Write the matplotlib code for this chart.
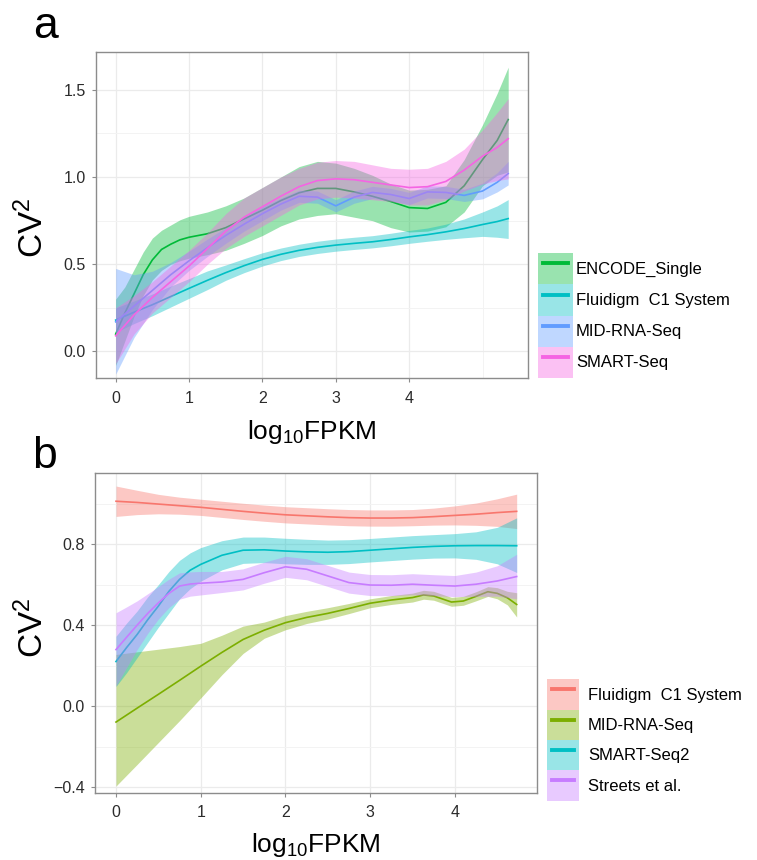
import numpy as np
import matplotlib
matplotlib.use("Agg")
import matplotlib.pyplot as plt
from matplotlib.patches import Patch
from matplotlib.lines import Line2D
from matplotlib.legend_handler import HandlerTuple, HandlerLine2D

plt.rcParams['font.family'] = ['Liberation Sans', 'DejaVu Sans']
plt.rcParams['mathtext.fontset'] = 'custom'
plt.rcParams['mathtext.rm'] = 'Liberation Sans'
plt.rcParams['mathtext.it'] = 'Liberation Sans:italic'
plt.rcParams['mathtext.bf'] = 'Liberation Sans:bold'

# ---------------- Panel a data ----------------
a_x = [0, 0.25, 0.5, 0.75, 1, 1.25, 1.5, 1.75, 2, 2.25, 2.5, 2.75, 3, 3.25,
       3.5, 3.75, 4, 4.25, 4.5, 4.75, 5, 5.2, 5.35]

a_encode_x = [0, 0.125, 0.25, 0.375, 0.5, 0.625, 0.75, 0.875, 1, 1.25, 1.5, 1.75, 2, 2.25,
              2.5, 2.75, 3, 3.25, 3.5, 3.75, 4, 4.25, 4.5, 4.75, 5, 5.2, 5.35]
a_encode_mid = [0.10, 0.22, 0.33, 0.44, 0.525, 0.585, 0.615, 0.64, 0.655, 0.675, 0.71, 0.76,
                0.81, 0.865, 0.91, 0.935, 0.935, 0.915, 0.89, 0.86, 0.825, 0.82, 0.855, 0.95,
                1.10, 1.21, 1.33]
a_encode_lo = [-0.08, 0.06, 0.20, 0.32, 0.41, 0.465, 0.50, 0.52, 0.535, 0.555, 0.58, 0.62,
               0.665, 0.72, 0.76, 0.78, 0.79, 0.77, 0.75, 0.71, 0.685, 0.69, 0.715, 0.80,
               0.95, 1.01, 1.03]
a_encode_hi = [0.30, 0.37, 0.47, 0.57, 0.65, 0.695, 0.725, 0.755, 0.775, 0.80, 0.835, 0.88,
               0.94, 1.00, 1.06, 1.09, 1.08, 1.05, 1.01, 0.96, 0.925, 0.93, 0.95, 1.10,
               1.30, 1.48, 1.63]

a_fluidigm_mid = [0.18, 0.225, 0.268, 0.315, 0.362, 0.408, 0.452, 0.492, 0.528, 0.557, 0.58,
                  0.597, 0.61, 0.62, 0.629, 0.642, 0.657, 0.67, 0.686, 0.705, 0.728, 0.745, 0.762]
a_fluidigm_lo = [0.11, 0.16, 0.205, 0.255, 0.305, 0.355, 0.408, 0.452, 0.49, 0.521, 0.545,
                 0.562, 0.575, 0.585, 0.594, 0.606, 0.62, 0.632, 0.643, 0.652, 0.66, 0.655, 0.648]
a_fluidigm_hi = [0.25, 0.29, 0.33, 0.375, 0.418, 0.462, 0.496, 0.532, 0.566, 0.593, 0.615,
                 0.632, 0.645, 0.655, 0.664, 0.678, 0.694, 0.708, 0.73, 0.76, 0.80, 0.835, 0.871]

a_mid_mid = [0.17, 0.26, 0.35, 0.44, 0.52, 0.595, 0.665, 0.73, 0.79, 0.845, 0.89, 0.885,
             0.835, 0.885, 0.912, 0.90, 0.877, 0.915, 0.912, 0.895, 0.92, 0.97, 1.02]
a_mid_lo = [-0.13, 0.08, 0.24, 0.37, 0.465, 0.545, 0.62, 0.69, 0.75, 0.81, 0.855, 0.85,
            0.80, 0.85, 0.877, 0.865, 0.842, 0.88, 0.877, 0.86, 0.875, 0.915, 0.955]
a_mid_hi = [0.476, 0.44, 0.46, 0.51, 0.575, 0.645, 0.71, 0.77, 0.83, 0.88, 0.925, 0.92,
            0.87, 0.92, 0.947, 0.935, 0.912, 0.95, 0.947, 0.93, 0.965, 1.025, 1.09]

a_smart_mid = [0.09, 0.21, 0.31, 0.40, 0.49, 0.59, 0.69, 0.77, 0.83, 0.89, 0.945, 0.98,
               0.99, 0.985, 0.97, 0.955, 0.94, 0.945, 0.975, 1.04, 1.12, 1.17, 1.22]
a_smart_lo = [-0.07, 0.10, 0.22, 0.31, 0.40, 0.50, 0.59, 0.66, 0.72, 0.78, 0.84, 0.875,
              0.885, 0.88, 0.87, 0.86, 0.84, 0.84, 0.87, 0.92, 0.96, 0.98, 0.99]
a_smart_hi = [0.25, 0.32, 0.40, 0.49, 0.58, 0.68, 0.79, 0.88, 0.94, 1.00, 1.05, 1.085,
              1.095, 1.09, 1.07, 1.05, 1.045, 1.05, 1.09, 1.16, 1.27, 1.37, 1.45]

a_labels = ['ENCODE_Single', 'Fluidigm  C1 System', 'MID-RNA-Seq', 'SMART-Seq']
a_colors = ['#00BA38', '#00BFC4', '#619CFF', '#F564E3']

# ---------------- Panel b data ----------------
b_x = [0, 0.25, 0.5, 0.75, 1, 1.25, 1.5, 1.75, 2, 2.25, 2.5, 2.75, 3, 3.25,
       3.5, 3.75, 4, 4.25, 4.5, 4.73]

b_fluidigm_mid = [1.012, 1.006, 0.998, 0.99, 0.982, 0.972, 0.962, 0.953, 0.945, 0.94, 0.935,
                  0.931, 0.929, 0.929, 0.931, 0.936, 0.942, 0.948, 0.956, 0.962]
b_fluidigm_lo = [0.937, 0.946, 0.95, 0.948, 0.942, 0.932, 0.922, 0.913, 0.905, 0.90, 0.895,
                 0.891, 0.889, 0.889, 0.891, 0.894, 0.895, 0.893, 0.888, 0.877]
b_fluidigm_hi = [1.087, 1.066, 1.046, 1.032, 1.022, 1.012, 1.002, 0.993, 0.985, 0.98, 0.975,
                 0.971, 0.969, 0.969, 0.971, 0.978, 0.989, 1.003, 1.024, 1.047]

b_early_x = [0, 0.125, 0.25, 0.375, 0.5, 0.625, 0.75, 0.875, 1, 1.25, 1.5, 1.75, 2, 2.25,
             2.5, 2.75, 3, 3.25, 3.5, 3.75, 4, 4.25, 4.5, 4.73]

b_smart2_mid = [0.22, 0.289, 0.354, 0.427, 0.494, 0.567, 0.626, 0.671, 0.70, 0.745, 0.77,
                0.772, 0.766, 0.762, 0.76, 0.763, 0.77, 0.777, 0.784, 0.789, 0.792, 0.793,
                0.793, 0.792]
b_smart2_lo = [0.097, 0.165, 0.24, 0.315, 0.39, 0.46, 0.53, 0.58, 0.617, 0.673, 0.705,
               0.709, 0.703, 0.70, 0.70, 0.704, 0.712, 0.719, 0.726, 0.731, 0.732, 0.725,
               0.703, 0.66]
b_smart2_hi = [0.345, 0.41, 0.47, 0.54, 0.60, 0.665, 0.72, 0.757, 0.783, 0.817, 0.835,
               0.835, 0.829, 0.824, 0.82, 0.822, 0.828, 0.835, 0.842, 0.847, 0.852, 0.861,
               0.883, 0.93]

b_streets_mid = [0.279, 0.34, 0.40, 0.458, 0.51, 0.557, 0.593, 0.603, 0.607, 0.613, 0.626,
                 0.659, 0.688, 0.676, 0.643, 0.61, 0.598, 0.597, 0.602, 0.597, 0.593, 0.602,
                 0.618, 0.64]
b_streets_lo = [0.10, 0.19, 0.28, 0.36, 0.43, 0.487, 0.528, 0.543, 0.549, 0.561, 0.574,
                0.607, 0.636, 0.624, 0.591, 0.558, 0.546, 0.545, 0.55, 0.545, 0.541, 0.542,
                0.543, 0.53]
b_streets_hi = [0.461, 0.49, 0.52, 0.555, 0.59, 0.627, 0.658, 0.663, 0.665, 0.665, 0.678,
                0.711, 0.74, 0.728, 0.695, 0.662, 0.65, 0.649, 0.654, 0.649, 0.645, 0.662,
                0.693, 0.75]

b_midrna_x = [0, 0.25, 0.5, 0.75, 1, 1.25, 1.5, 1.75, 2, 2.25, 2.5, 2.75, 3, 3.25, 3.5,
              3.63, 3.75, 3.96, 4.1, 4.25, 4.39, 4.5, 4.62, 4.73]
b_midrna_mid = [-0.079, -0.01, 0.058, 0.127, 0.197, 0.265, 0.329, 0.375, 0.412, 0.438, 0.458,
                0.482, 0.508, 0.524, 0.536, 0.549, 0.544, 0.514, 0.519, 0.542, 0.565, 0.557,
                0.535, 0.502]
b_midrna_lo = [-0.395, -0.288, -0.18, -0.072, 0.04, 0.155, 0.26, 0.335, 0.377, 0.408, 0.43,
               0.457, 0.486, 0.502, 0.514, 0.528, 0.523, 0.493, 0.498, 0.52, 0.542, 0.53,
               0.50, 0.44]
b_midrna_hi = [0.255, 0.268, 0.281, 0.294, 0.31, 0.35, 0.395, 0.415, 0.447, 0.468, 0.486,
               0.507, 0.53, 0.546, 0.558, 0.572, 0.567, 0.537, 0.542, 0.565, 0.59, 0.585,
               0.567, 0.56]

b_labels = ['Fluidigm  C1 System', 'MID-RNA-Seq', 'SMART-Seq2', 'Streets et al.']
b_colors = ['#F8766D', '#7CAE00', '#00BFC4', '#C77CFF']

# ---------------- Figure ----------------
W, H = 757, 860
fig = plt.figure(figsize=(W / 100, H / 100), dpi=100)


def px_axes(l, t, r, b):
    return fig.add_axes([l / W, 1 - b / H, (r - l) / W, (b - t) / H])


ax_a = px_axes(96, 51.5, 528, 378)
ax_b = px_axes(95, 472.7, 537, 792.7)

ALPHA = 0.4
LW = 1.2


def draw_series(ax, x, mid, lo, hi, color):
    ax.fill_between(x, lo, hi, color=color, alpha=ALPHA, linewidth=0, zorder=2)
    ax.plot(x, mid, color=color, lw=LW, zorder=2, solid_joinstyle='round')


series_a = [
    (a_encode_x, a_encode_mid, a_encode_lo, a_encode_hi),
    (a_x, a_fluidigm_mid, a_fluidigm_lo, a_fluidigm_hi),
    (a_x, a_mid_mid, a_mid_lo, a_mid_hi),
    (a_x, a_smart_mid, a_smart_lo, a_smart_hi),
]
for (x, m, lo, hi), c in zip(series_a, a_colors):
    draw_series(ax_a, x, m, lo, hi, c)

series_b = [
    (b_x, b_fluidigm_mid, b_fluidigm_lo, b_fluidigm_hi),
    (b_midrna_x, b_midrna_mid, b_midrna_lo, b_midrna_hi),
    (b_early_x, b_smart2_mid, b_smart2_lo, b_smart2_hi),
    (b_early_x, b_streets_mid, b_streets_lo, b_streets_hi),
]
for (x, m, lo, hi), c in zip(series_b, b_colors):
    draw_series(ax_b, x, m, lo, hi, c)

# axes styling
ax_a.set_xlim(-0.268, 5.62)
ax_a.set_ylim(-0.152, 1.720)
ax_a.set_xticks([0, 1, 2, 3, 4])
ax_a.set_xticks([5], minor=True)
ax_a.set_yticks([0.0, 0.5, 1.0, 1.5])
ax_a.set_yticklabels(['0.0', '0.5', '1.0', '1.5'])
ax_a.set_yticks([0.25, 0.75, 1.25], minor=True)

ax_b.set_xlim(-0.248, 4.97)
ax_b.set_ylim(-0.428, 1.153)
ax_b.set_xticks([0, 1, 2, 3, 4])
ax_b.set_yticks([-0.4, 0.0, 0.4, 0.8])
ax_b.set_yticklabels(['\u22120.4', '0.0', '0.4', '0.8'])
ax_b.set_yticks([-0.2, 0.2, 0.6, 1.0], minor=True)

for ax in (ax_a, ax_b):
    ax.set_facecolor('white')
    ax.set_axisbelow(True)
    ax.grid(True, which='major', color='#EBEBEB', lw=0.9, zorder=0)
    ax.grid(True, which='minor', color='#F3F3F3', lw=0.7, zorder=0)
    for s in ax.spines.values():
        s.set_color('#8C8C8C')
        s.set_linewidth(1.0)
    ax.tick_params(which='major', direction='out', length=3, width=0.8, color='#8C8C8C',
                   labelsize=11.5, labelcolor='#2B2B2B')
    ax.tick_params(axis='x', which='major', pad=6)
    ax.tick_params(axis='y', which='major', pad=4.5)
    ax.tick_params(which='minor', length=0)
    ax.set_xlabel('log$_{10}$FPKM', fontsize=19, va='baseline')
    ax.set_ylabel('CV$^2$', fontsize=24, va='center')

ax_a.xaxis.set_label_coords(0.5, (378 - 439) / 326.5)
ax_b.xaxis.set_label_coords(0.5, (792.7 - 852) / 320)
ax_a.yaxis.set_label_coords((33 - 96) / 432, (378 - 228) / 326.5)
ax_b.yaxis.set_label_coords((33 - 95) / 442, (792.7 - 628) / 320)

# panel letters
fig.text(33 / W, 1 - 38 / H, 'a', fontsize=32, ha='left', va='baseline')
fig.text(32 / W, 1 - 468 / H, 'b', fontsize=32, ha='left', va='baseline')

# legends
FS = 12
fs_px = FS * 100 / 72


def handle_height(h_px):
    # matplotlib legend box height = fs*hh - 0.35*fs*(hh-0.7)
    return (h_px / fs_px - 0.245) / 0.65


def make_legend(labels, colors, left, top, key_w, key_h, gap):
    handles = [(Patch(facecolor=c, alpha=ALPHA, edgecolor='none'),
                Line2D([], [], color=c, lw=2.8)) for c in colors]
    leg = fig.legend(handles, labels, loc='upper left',
                     bbox_to_anchor=(left / W, 1 - top / H),
                     frameon=False, borderpad=0, borderaxespad=0, labelspacing=0,
                     handlelength=key_w / fs_px, handleheight=handle_height(key_h),
                     handletextpad=gap / fs_px, fontsize=FS,
                     handler_map={tuple: HandlerTuple(ndivide=1, pad=0),
                                  Line2D: HandlerLine2D(numpoints=2, marker_pad=0.3)})
    return leg


make_legend(a_labels, a_colors, 538, 253, 35, 31.25, 3)
make_legend(b_labels, b_colors, 546.7, 679.3, 32.6, 30.35, 8.5)

fig.savefig('out.png', dpi=100, facecolor='white')
